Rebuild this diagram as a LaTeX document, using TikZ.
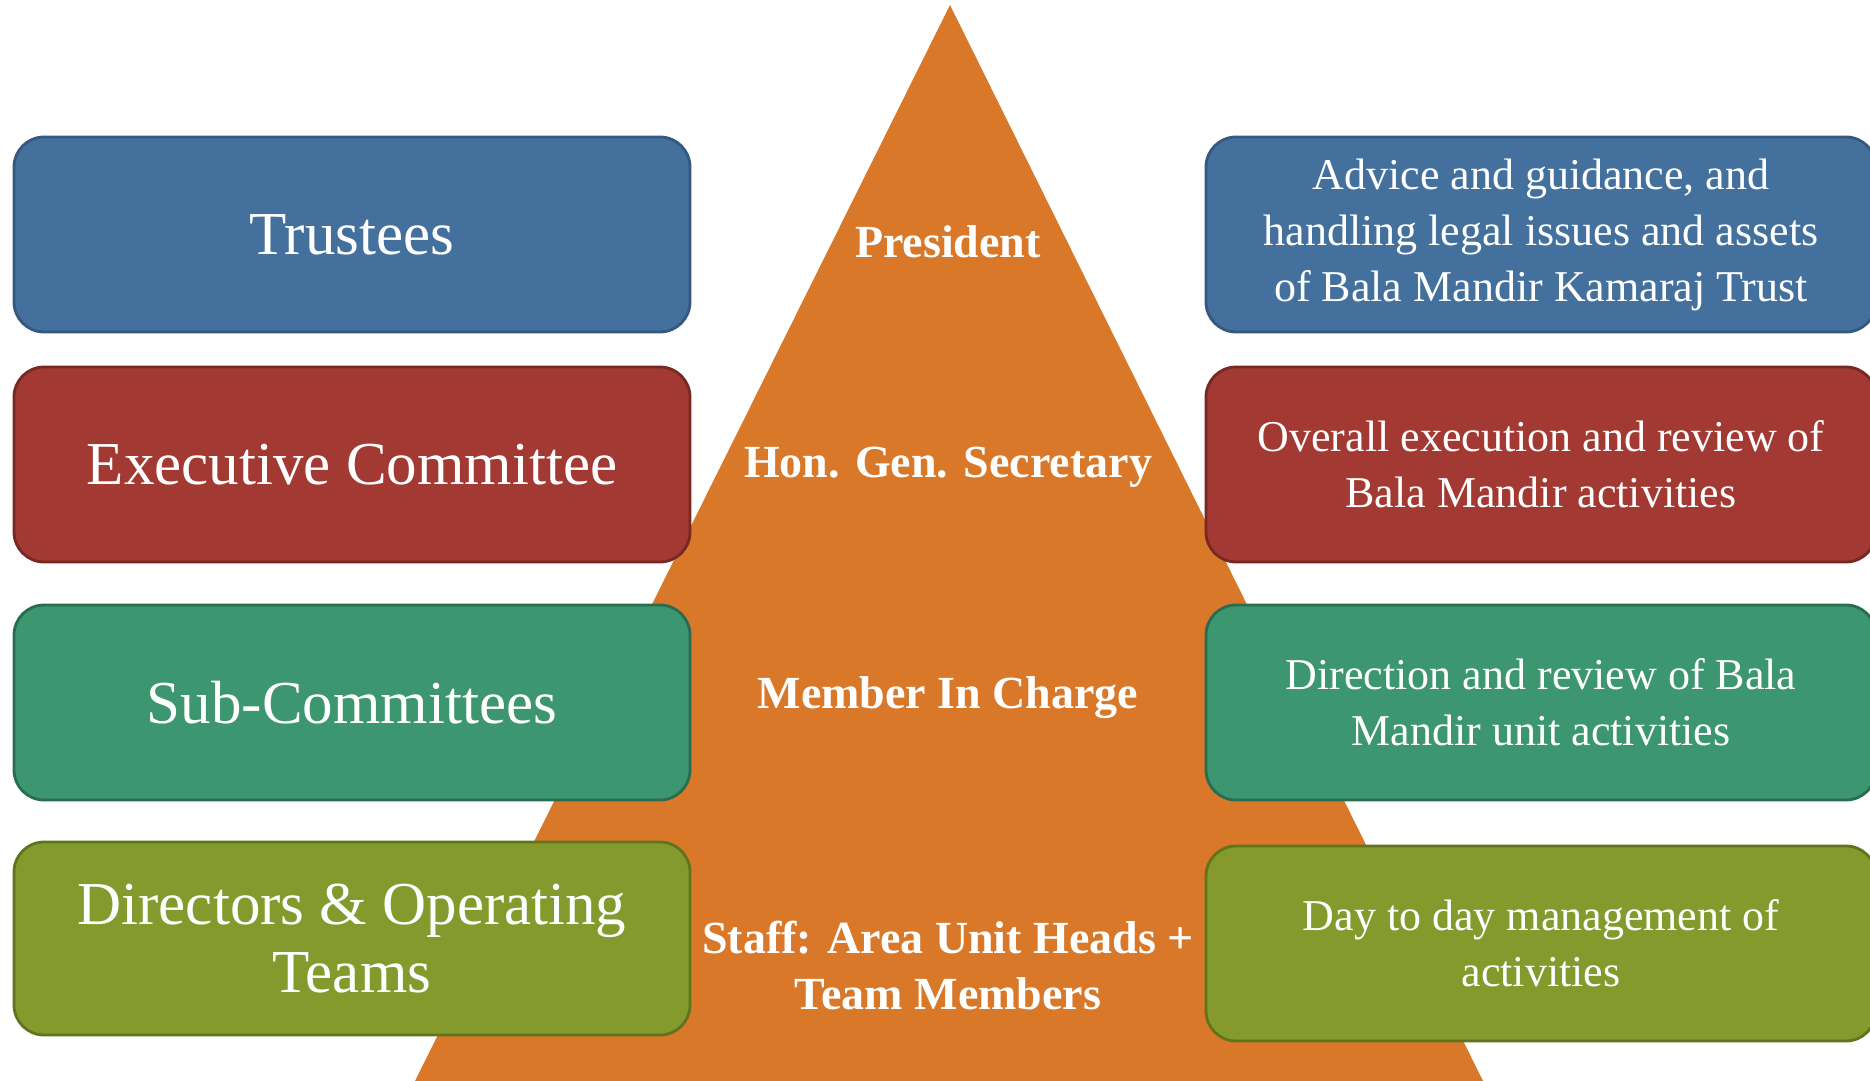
\documentclass[tikz,border=0pt]{standalone}
\usepackage{fontspec}
\setmainfont{Liberation Serif}

\definecolor{pyrorange}{RGB}{217,120,41}
\definecolor{trustblue}{RGB}{68,112,157}
\definecolor{trustline}{RGB}{52,88,126}
\definecolor{execred}{RGB}{162,57,50}
\definecolor{execline}{RGB}{118,40,34}
\definecolor{subgreen}{RGB}{60,150,112}
\definecolor{subline}{RGB}{42,108,80}
\definecolor{dirolive}{RGB}{132,154,45}
\definecolor{dirline}{RGB}{96,116,30}

\tikzset{every picture/.style={line width=0.75pt}}
\tikzset{
  tierbox/.style={draw, rounded corners=15pt, line width=1.4pt, inner sep=0pt,
    minimum height=97.5pt, text=white, align=center},
  leftbox/.style={tierbox, minimum width=338pt, font=\fontsize{30.5}{34}\selectfont},
  rightbox/.style={tierbox, minimum width=335pt, font=\fontsize{22}{28}\selectfont},
  tierlabel/.style={text=white, align=center, inner sep=0pt,
    font=\fontsize{23}{28}\selectfont\bfseries},
  trust/.style={fill=trustblue, draw=trustline},
  exec/.style={fill=execred, draw=execline},
  sub/.style={fill=subgreen, draw=subline},
  dir/.style={fill=dirolive, draw=dirline}
}

\begin{document}
\begin{tikzpicture}[x=0.5pt,y=0.5pt,yscale=-1,xscale=1]
\useasboundingbox (0,0) rectangle (1870,1081);

%Shape: Triangle [id:pyramid]
\fill [pyrorange] (950,5) -- (1483,1081) -- (415,1081) -- cycle ;

%Shape: Rounded Rect [id:left boxes]
\node [leftbox, trust] (trustees) at (352,234.5) {Trustees};
\node [leftbox, exec] (execcom) at (352,464.5) {Executive Committee};
\node [leftbox, sub] (subcom) at (352,702.5) {Sub-Committees};
\node [leftbox, dir, minimum height=96.5pt] (directors) at (352,938.5) {Directors \& Operating\\Teams};

%Shape: Rounded Rect [id:right boxes]
\node [rightbox, trust] (advice) at (1541,234.5) {Advice and guidance, and\\handling legal issues and assets\\of Bala Mandir Kamaraj Trust};
\node [rightbox, exec] (review) at (1541,464.5) {Overall execution and review of\\Bala Mandir activities};
\node [rightbox, sub] (direction) at (1541,702.5) {Direction and review of Bala\\Mandir unit activities};
\node [rightbox, dir] (daytoday) at (1541,943.5) {Day to day management of\\activities};

% Text Node
\node [tierlabel] (president) at (948,242) {President};
% Text Node
\node [tierlabel] (secretary) at (948,467) {Hon. Gen. Secretary};
% Text Node
\node [tierlabel] (incharge) at (948,698) {Member In Charge};
% Text Node
\node [tierlabel] (staff) at (948,966) {Staff: Area Unit Heads +\\Team Members};

\end{tikzpicture}
\end{document}
